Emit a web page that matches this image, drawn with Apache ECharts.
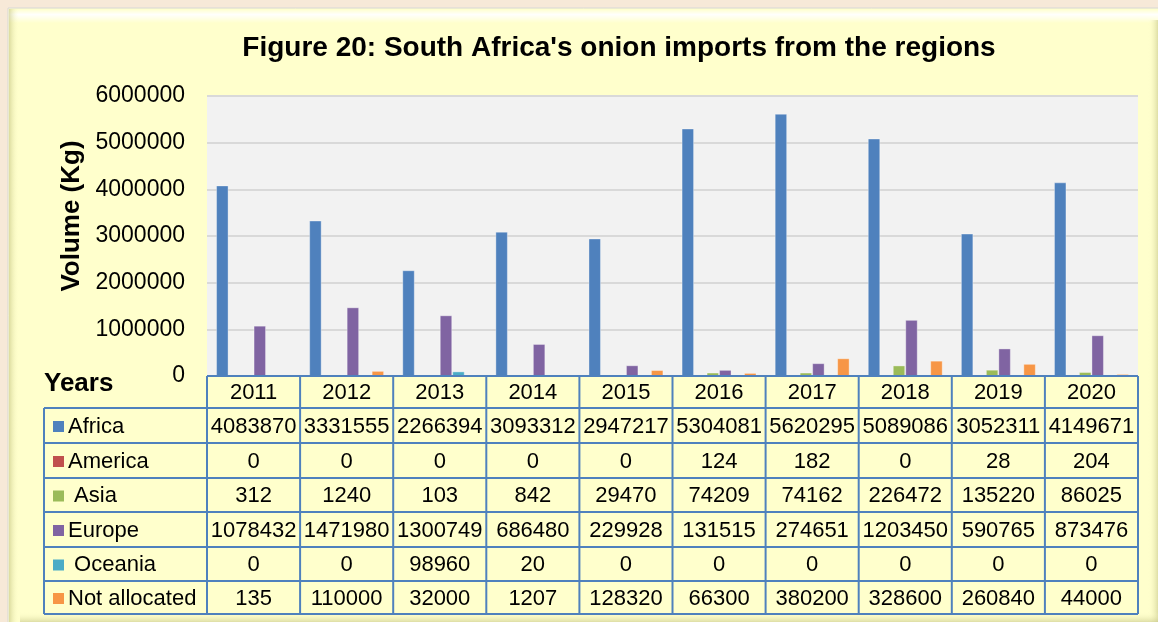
<!DOCTYPE html>
<html>
<head>
<meta charset="utf-8">
<script src="https://cdn.jsdelivr.net/npm/echarts@6/dist/echarts.min.js"></script>
<style>
html,body{margin:0;padding:0;background:#f7e9d8;}
#chart{width:1158px;height:622px;}
</style>
</head>
<body>
<div id="chart"></div>
<script>
var years = ['2011','2012','2013','2014','2015','2016','2017','2018','2019','2020'];
var seriesNames = ['Africa','America','Asia','Europe','Oceania','Not allocated'];
var rowLabels = ['Africa','America',' Asia','Europe',' Oceania','Not allocated'];
var africa = [4083870,3331555,2266394,3093312,2947217,5304081,5620295,5089086,3052311,4149671];
var america = [0,0,0,0,0,124,182,0,28,204];
var asia = [312,1240,103,842,29470,74209,74162,226472,135220,86025];
var europe = [1078432,1471980,1300749,686480,229928,131515,274651,1203450,590765,873476];
var oceania = [0,0,98960,20,0,0,0,0,0,0];
var notAllocated = [135,110000,32000,1207,128320,66300,380200,328600,260840,44000];
var yTicks = [0,1000000,2000000,3000000,4000000,5000000,6000000];
var colors = ['#4f81bd','#c0504d','#9bbb59','#8064a2','#4bacc6','#f79646'];

var allSeries = [africa, america, asia, europe, oceania, notAllocated];
var FONT = '"Liberation Sans", Arial, sans-serif';

var chart = echarts.init(document.getElementById('chart'), null, {renderer:'canvas'});

var option = {
  backgroundColor: '#f7e9d8',
  animation: false,
  title: {
    text: "Figure 20: South Africa's onion imports from the regions",
    left: 614, top: 29, textAlign: 'center',
    textStyle: {fontFamily: FONT, fontSize: 28, fontWeight: 'bold', color: '#000'}
  },
  grid: {
    left: 207, right: 20, top: 96, bottom: 246,
    show: true, backgroundColor: '#f2f2f2', borderWidth: 0
  },
  xAxis: {
    type: 'category', data: years,
    axisLine: {show: false}, axisTick: {show: false},
    axisLabel: {fontFamily: FONT, fontSize: 22, color: '#000', margin: 17, verticalAlign: 'middle'},
    z: 10
  },
  yAxis: {
    type: 'value', min: 0, max: yTicks[yTicks.length-1], interval: yTicks[1]-yTicks[0],
    axisLine: {show: false}, axisTick: {show: false},
    axisLabel: {fontFamily: FONT, fontSize: 23, color: '#000', margin: 22, formatter: function(v){ return String(v); }},
    splitLine: {lineStyle: {color: '#d9d9d9', width: 2}}
  },
  series: seriesNames.map(function(n, i){
    return {
      name: n, type: 'bar', data: allSeries[i],
      barGap: 0, barCategoryGap: '19.5%',
      itemStyle: {color: colors[i], borderColor: 'rgba(255,255,255,0.35)', borderWidth: 1},
      z: 3
    };
  })
};
chart.setOption(option);

// Build the data table and panel decorations
var colW = (1158 - 20 - 207) / years.length;
var rowY = [408, 443, 478, 512, 547, 581, 614];
var headTop = 376;
var tableLeft = 44;
var gridLeft = 207, gridRight = 1138;
var border = '#4f81bd';
var g = [];

// panel
g.push({type:'rect', shape:{x:8,y:8,width:1160,height:630}, style:{fill:'#ffffcc', stroke:'#d6d6d6', lineWidth:1}, z:-10});
g.push({type:'rect', shape:{x:9,y:9,width:1160,height:14}, style:{fill:new echarts.graphic.LinearGradient(0,0,0,1,[{offset:0,color:'rgba(255,255,255,0.0)'},{offset:0.4,color:'rgba(255,255,255,0.95)'},{offset:1,color:'rgba(255,255,255,0)'}])}, z:-9});
g.push({type:'rect', shape:{x:9,y:9,width:10,height:630}, style:{fill:new echarts.graphic.LinearGradient(0,0,1,0,[{offset:0,color:'rgba(190,190,120,0.55)'},{offset:1,color:'rgba(255,255,204,0)'}])}, z:-9});
g.push({type:'rect', shape:{x:1148,y:20,width:10,height:620}, style:{fill:new echarts.graphic.LinearGradient(0,0,1,0,[{offset:0,color:'rgba(255,255,204,0)'},{offset:1,color:'rgba(200,200,140,0.6)'}])}, z:-9});
g.push({type:'rect', shape:{x:20,y:612,width:1140,height:10}, style:{fill:new echarts.graphic.LinearGradient(0,0,0,1,[{offset:0,color:'rgba(255,255,204,0)'},{offset:1,color:'rgba(200,200,140,0.6)'}])}, z:-9});

// y axis name and "Years"
g.push({type:'text', x:72, y:216, rotation:Math.PI/2, style:{text:'Volume (Kg)', font:'bold 26px '+FONT, fill:'#000', textAlign:'center', textVerticalAlign:'middle'}, z:5});
g.push({type:'text', x:44, y:384, style:{text:'Years', font:'bold 26px '+FONT, fill:'#000', textAlign:'left', textVerticalAlign:'middle'}, z:5});

// table cells background
g.push({type:'rect', shape:{x:gridLeft,y:headTop,width:gridRight-gridLeft,height:rowY[0]-headTop}, style:{fill:'#ffffcc'}, z:1});
g.push({type:'rect', shape:{x:tableLeft,y:rowY[0],width:gridRight-tableLeft,height:rowY[rowY.length-1]-rowY[0]}, style:{fill:'#ffffcc'}, z:1});

// horizontal lines
g.push({type:'line', shape:{x1:gridLeft,y1:headTop,x2:gridRight,y2:headTop}, style:{stroke:border,lineWidth:2}, z:20});
rowY.forEach(function(y){
  g.push({type:'line', shape:{x1:tableLeft,y1:y,x2:gridRight,y2:y}, style:{stroke:border,lineWidth:2}, z:20});
});
// vertical lines
g.push({type:'line', shape:{x1:tableLeft,y1:rowY[0],x2:tableLeft,y2:rowY[rowY.length-1]}, style:{stroke:border,lineWidth:2}, z:20});
for (var c = 0; c <= years.length; c++) {
  var px = (c < years.length) ? chart.convertToPixel({xAxisIndex:0}, years[c]) - colW/2 : chart.convertToPixel({xAxisIndex:0}, years[years.length-1]) + colW/2;
  g.push({type:'line', shape:{x1:px,y1:headTop,x2:px,y2:rowY[rowY.length-1]}, style:{stroke:border,lineWidth:2}, z:20});
}
// rows
for (var r = 0; r < allSeries.length; r++) {
  var cy = (rowY[r] + rowY[r+1]) / 2 + 1;
  g.push({type:'rect', shape:{x:53,y:cy-5.5,width:11,height:11}, style:{fill:colors[r]}, z:21});
  g.push({type:'text', x:68, y:cy, style:{text:rowLabels[r], font:'22px '+FONT, fill:'#000', textAlign:'left', textVerticalAlign:'middle'}, z:21});
  for (var k = 0; k < years.length; k++) {
    var cx = chart.convertToPixel({xAxisIndex:0}, years[k]);
    g.push({type:'text', x:cx, y:cy, style:{text:String(allSeries[r][k]), font:'22px '+FONT, fill:'#000', textAlign:'center', textVerticalAlign:'middle'}, z:21});
  }
}
chart.setOption({graphic: {elements: g}});
</script>
</body>
</html>
